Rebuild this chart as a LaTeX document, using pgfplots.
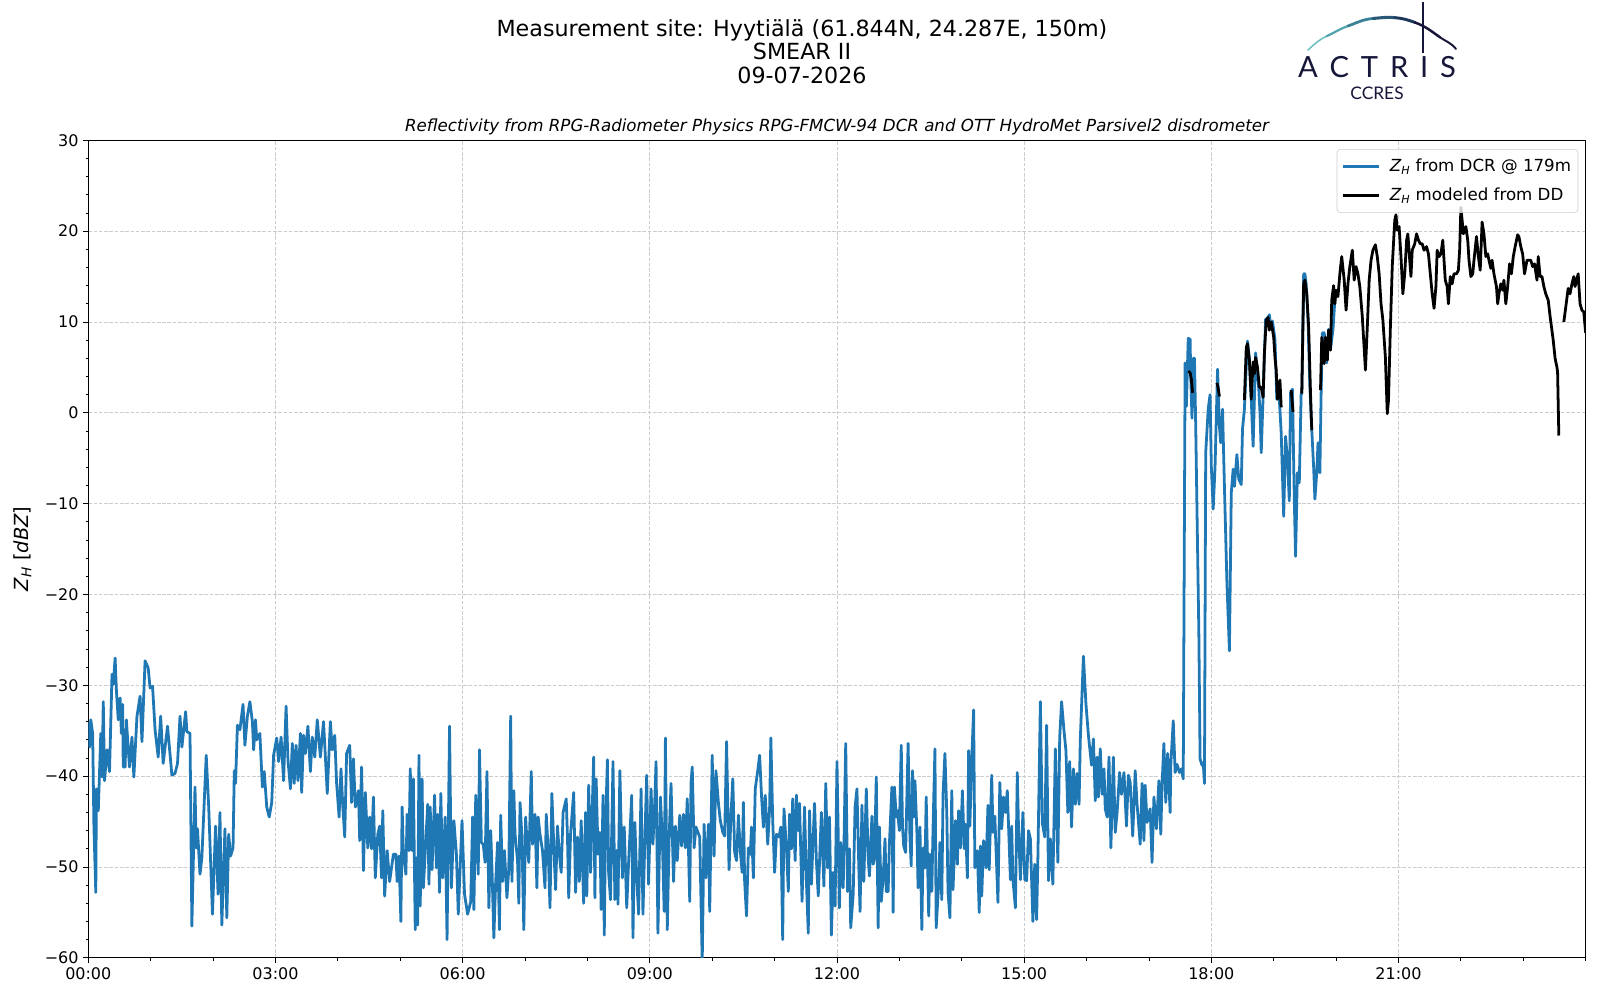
\documentclass[border=0pt]{standalone}
\usepackage{fontspec}
\setmainfont{DejaVu Sans}
\newfontfamily\logofont{Lato}
\usepackage{pgfplots}
\pgfplotsset{compat=1.18}
\usepackage{pgfplotstable}
\definecolor{mplblue}{RGB}{31,119,180}
\definecolor{navy}{RGB}{22,22,58}

\pgfplotstableread{
h z
0.00 -34.0
0.02 -36.8
0.04 -33.8
0.07 -35.3
0.09 -45.6
0.12 -52.8
0.13 -41.4
0.16 -43.8
0.20 -35.3
0.22 -40.1
0.24 -31.8
0.26 -40.5
0.30 -37.1
0.34 -39.5
0.38 -28.8
0.40 -29.9
0.43 -27.0
0.45 -30.5
0.48 -33.8
0.51 -31.4
0.53 -35.3
0.55 -32.1
0.56 -39.0
0.59 -39.0
0.61 -33.8
0.66 -39.0
0.70 -35.7
0.73 -40.1
0.78 -33.4
0.83 -31.2
0.86 -36.2
0.91 -27.3
0.96 -28.1
0.99 -30.3
1.03 -30.1
1.07 -34.9
1.12 -37.9
1.16 -33.4
1.20 -38.6
1.27 -34.5
1.34 -39.9
1.39 -39.7
1.43 -38.6
1.47 -33.4
1.50 -36.8
1.56 -32.9
1.58 -35.1
1.63 -35.3
1.66 -56.5
1.71 -41.2
1.73 -47.9
1.75 -45.8
1.79 -50.8
1.82 -49.0
1.89 -37.7
1.93 -43.4
1.99 -55.2
2.04 -45.5
2.08 -53.0
2.11 -44.0
2.14 -56.4
2.19 -45.8
2.22 -55.6
2.25 -46.4
2.28 -48.8
2.32 -47.9
2.34 -39.4
2.36 -40.8
2.39 -34.4
2.43 -34.9
2.48 -32.1
2.51 -36.6
2.55 -33.4
2.59 -31.8
2.63 -34.0
2.65 -37.1
2.68 -33.8
2.70 -36.0
2.75 -35.3
2.79 -41.2
2.82 -39.5
2.86 -43.4
2.90 -44.5
2.94 -42.9
2.97 -37.7
3.02 -35.8
3.05 -38.4
3.09 -35.7
3.13 -40.5
3.17 -32.3
3.20 -38.2
3.24 -41.4
3.27 -36.4
3.30 -40.8
3.33 -36.6
3.36 -40.5
3.40 -35.3
3.42 -41.8
3.45 -35.5
3.48 -37.5
3.52 -34.5
3.56 -39.5
3.59 -35.7
3.63 -37.9
3.67 -33.8
3.72 -37.9
3.77 -34.0
3.80 -37.9
3.83 -41.9
3.88 -34.0
3.91 -37.1
3.95 -35.5
3.98 -40.8
4.02 -44.5
4.05 -39.2
4.08 -43.4
4.11 -46.7
4.14 -37.5
4.19 -36.6
4.22 -42.9
4.25 -38.1
4.28 -43.4
4.33 -41.6
4.35 -47.1
4.38 -39.0
4.41 -50.4
4.44 -41.8
4.48 -47.9
4.51 -44.5
4.54 -48.0
4.57 -42.3
4.60 -51.2
4.64 -46.4
4.67 -45.5
4.70 -51.2
4.72 -43.8
4.75 -53.2
4.79 -48.2
4.83 -51.6
4.86 -50.1
4.89 -48.6
4.93 -48.6
4.95 -51.6
4.98 -48.8
5.01 -56.0
5.03 -43.4
5.05 -48.6
5.09 -50.8
5.11 -44.2
5.14 -48.2
5.16 -39.2
5.19 -48.2
5.21 -40.3
5.24 -56.9
5.26 -49.0
5.28 -56.4
5.30 -37.7
5.32 -54.3
5.35 -40.3
5.37 -52.3
5.41 -47.1
5.44 -43.1
5.46 -51.9
5.48 -43.4
5.51 -50.3
5.55 -42.1
5.58 -50.1
5.60 -44.2
5.63 -52.8
5.65 -41.9
5.68 -51.2
5.72 -44.5
5.75 -58.0
5.79 -34.5
5.82 -52.3
5.86 -44.9
5.90 -48.6
5.93 -55.2
5.96 -50.1
5.99 -44.9
6.03 -53.0
6.08 -55.2
6.13 -53.8
6.16 -44.5
6.18 -54.7
6.21 -42.1
6.25 -50.8
6.27 -37.1
6.30 -47.3
6.33 -47.5
6.36 -49.5
6.39 -39.5
6.42 -54.5
6.45 -46.0
6.47 -50.1
6.50 -57.8
6.53 -51.6
6.56 -47.3
6.59 -56.9
6.61 -44.3
6.64 -51.6
6.67 -48.2
6.71 -53.4
6.74 -50.1
6.77 -33.4
6.79 -51.6
6.82 -41.6
6.84 -46.4
6.88 -49.3
6.90 -54.0
6.92 -42.9
6.95 -46.6
6.98 -56.9
7.01 -44.5
7.03 -47.1
7.06 -49.5
7.10 -39.5
7.12 -47.5
7.16 -44.2
7.19 -52.3
7.21 -44.5
7.24 -46.4
7.28 -48.2
7.32 -52.3
7.34 -44.2
7.37 -48.0
7.40 -54.5
7.43 -41.9
7.47 -49.3
7.49 -52.5
7.52 -45.5
7.55 -48.6
7.58 -50.6
7.61 -44.0
7.66 -42.5
7.68 -46.6
7.70 -53.4
7.73 -46.4
7.78 -41.8
7.81 -52.8
7.84 -46.7
7.87 -51.6
7.90 -44.9
7.94 -54.0
7.97 -44.0
7.99 -53.2
8.02 -41.0
8.05 -50.6
8.10 -37.9
8.12 -53.4
8.14 -40.3
8.17 -48.6
8.20 -46.2
8.22 -54.7
8.25 -42.1
8.27 -57.5
8.29 -45.6
8.32 -38.2
8.34 -50.6
8.37 -53.6
8.41 -38.4
8.44 -53.6
8.47 -48.2
8.49 -54.1
8.52 -39.4
8.56 -51.2
8.59 -45.6
8.63 -54.5
8.66 -49.5
8.71 -42.1
8.73 -57.8
8.76 -45.1
8.79 -51.2
8.82 -55.2
8.86 -41.4
8.89 -55.2
8.92 -47.1
8.95 -39.9
8.98 -51.9
9.02 -41.4
9.05 -47.5
9.08 -42.7
9.10 -38.4
9.13 -57.3
9.17 -42.3
9.20 -46.7
9.23 -54.9
9.25 -35.8
9.28 -56.9
9.31 -46.7
9.34 -40.8
9.38 -51.6
9.41 -45.5
9.44 -49.3
9.48 -44.3
9.51 -47.7
9.54 -44.2
9.57 -47.9
9.60 -42.5
9.64 -53.8
9.66 -40.8
9.68 -39.0
9.71 -47.9
9.74 -45.6
9.80 -46.7
9.84 -60.5
9.87 -45.3
9.90 -51.2
9.94 -45.3
9.96 -54.9
10.00 -37.7
10.03 -48.8
10.06 -39.4
10.10 -43.0
10.13 -44.9
10.17 -46.2
10.20 -46.6
10.23 -36.2
10.27 -50.3
10.30 -44.5
10.33 -40.3
10.36 -48.4
10.39 -49.3
10.42 -44.3
10.45 -48.2
10.48 -50.6
10.50 -42.9
10.52 -51.6
10.55 -55.4
10.58 -47.9
10.61 -48.6
10.63 -45.6
10.66 -51.2
10.69 -41.4
10.73 -39.4
10.76 -37.7
10.79 -42.1
10.82 -45.6
10.85 -42.1
10.89 -47.5
10.92 -43.6
10.94 -35.8
10.97 -44.9
11.00 -50.6
11.03 -46.4
11.07 -46.7
11.10 -45.6
11.13 -58.0
11.15 -43.6
11.19 -47.9
11.22 -52.7
11.24 -44.2
11.27 -48.0
11.29 -42.5
11.33 -49.3
11.35 -42.1
11.38 -46.0
11.40 -43.0
11.44 -53.8
11.48 -43.4
11.51 -51.6
11.54 -57.3
11.56 -43.8
11.59 -51.9
11.64 -43.0
11.67 -49.3
11.70 -53.2
11.75 -44.0
11.79 -52.1
11.82 -40.8
11.85 -50.1
11.88 -44.5
11.91 -57.5
11.94 -50.6
11.97 -54.3
12.00 -38.4
12.04 -54.5
12.06 -47.3
12.10 -52.3
12.14 -36.4
12.17 -52.7
12.20 -48.0
12.22 -56.7
12.26 -53.0
12.29 -43.4
12.32 -41.4
12.35 -50.1
12.37 -54.9
12.40 -43.2
12.43 -51.6
12.47 -41.4
12.50 -49.0
12.52 -51.0
12.56 -44.4
12.58 -49.7
12.60 -49.0
12.63 -40.1
12.66 -56.7
12.68 -45.6
12.71 -53.8
12.74 -51.2
12.77 -46.9
12.79 -52.7
12.82 -52.7
12.84 -47.5
12.88 -41.2
12.90 -55.0
12.92 -41.2
12.95 -44.5
12.97 -43.8
13.00 -46.0
13.03 -36.6
13.05 -45.6
13.07 -47.7
13.10 -48.4
13.14 -36.4
13.17 -46.9
13.19 -49.9
13.21 -39.4
13.23 -44.5
13.25 -40.5
13.28 -46.0
13.30 -52.3
13.33 -45.6
13.36 -56.9
13.38 -47.9
13.41 -50.1
13.43 -42.3
13.47 -55.4
13.49 -48.6
13.52 -52.7
13.54 -45.6
13.57 -37.0
13.59 -56.7
13.63 -51.9
13.65 -47.3
13.68 -53.6
13.70 -42.0
13.73 -37.5
13.76 -44.0
13.78 -52.8
13.81 -55.6
13.84 -41.6
13.86 -52.5
13.90 -44.9
13.93 -49.7
13.95 -43.8
13.98 -47.9
14.01 -41.6
14.04 -48.0
14.06 -45.3
14.09 -51.2
14.11 -37.2
14.13 -45.5
14.16 -38.1
14.19 -32.7
14.21 -50.1
14.25 -48.2
14.28 -55.0
14.30 -47.7
14.32 -53.2
14.35 -47.1
14.39 -50.1
14.42 -43.2
14.44 -50.3
14.48 -39.9
14.50 -46.2
14.53 -44.4
14.58 -53.9
14.61 -40.7
14.64 -45.8
14.67 -42.3
14.70 -44.0
14.73 -41.6
14.75 -45.5
14.78 -51.4
14.80 -45.5
14.82 -51.4
14.86 -54.5
14.89 -39.6
14.91 -45.8
14.94 -51.4
14.98 -44.0
15.01 -51.4
15.04 -51.5
15.07 -46.0
15.10 -46.9
15.14 -56.0
15.17 -49.7
15.20 -55.8
15.22 -49.0
15.26 -31.8
15.29 -45.1
15.33 -46.7
15.36 -34.4
15.39 -51.5
15.42 -46.9
15.46 -51.9
15.50 -37.0
15.54 -49.5
15.57 -35.7
15.60 -31.8
15.64 -35.1
15.67 -37.2
15.70 -44.0
15.73 -38.4
15.76 -45.6
15.79 -39.2
15.82 -43.1
15.85 -39.7
15.88 -43.1
15.90 -36.0
15.95 -26.8
15.99 -32.0
16.03 -35.5
16.08 -38.8
16.11 -35.9
16.14 -42.7
16.17 -37.9
16.19 -42.3
16.22 -37.0
16.25 -42.0
16.28 -39.2
16.30 -43.6
16.33 -44.5
16.36 -37.9
16.39 -47.9
16.43 -37.9
16.46 -46.2
16.49 -44.0
16.53 -39.6
16.56 -42.0
16.60 -39.6
16.64 -45.5
16.67 -39.9
16.70 -40.7
16.74 -46.6
16.78 -39.4
16.81 -43.1
16.86 -47.5
16.89 -40.8
16.92 -47.1
16.94 -41.0
16.97 -45.1
17.02 -43.6
17.05 -49.5
17.08 -42.3
17.12 -45.8
17.16 -40.5
17.19 -46.4
17.21 -41.0
17.24 -36.4
17.27 -42.9
17.30 -37.5
17.34 -44.0
17.35 -38.8
17.39 -33.9
17.42 -39.6
17.45 -38.7
17.49 -39.6
17.52 -39.2
17.55 -40.3
17.58 5.5
17.60 0.7
17.63 8.2
17.66 8.1
17.67 4.0
17.69 -0.6
17.71 6.0
17.73 6.0
17.75 -1.5
17.80 -24.2
17.82 -38.1
17.85 -38.8
17.87 -38.5
17.89 -40.8
17.91 -4.4
17.95 0.4
17.98 2.0
18.00 -5.9
18.03 -10.6
18.06 -5.9
18.10 4.8
18.13 -1.5
18.15 -3.3
18.18 0.4
18.21 -8.1
18.25 -18.7
18.29 -26.2
18.32 -8.8
18.35 -6.2
18.37 -8.1
18.41 -4.6
18.44 -7.3
18.48 -7.9
18.50 -1.8
18.53 0.4
18.56 5.1
18.58 7.9
18.61 5.9
18.64 1.5
18.67 -3.7
18.71 6.6
18.73 5.1
18.76 2.7
18.78 0.0
18.80 -4.4
18.83 1.8
18.87 10.3
18.90 10.4
18.93 10.8
18.96 9.2
18.98 10.1
19.02 8.1
19.05 1.5
19.07 3.3
19.09 1.5
19.12 -2.2
19.16 -11.4
19.19 -2.6
19.22 -5.1
19.25 -9.7
19.27 2.2
19.30 2.6
19.33 -9.5
19.35 -15.8
19.38 -6.6
19.41 -7.7
19.44 2.2
19.45 2.1
19.48 15.3
19.50 15.3
19.52 14.2
19.55 10.2
19.58 2.8
19.60 -0.5
19.64 -6.0
19.66 -9.5
19.69 -6.6
19.71 -3.3
19.74 -6.6
19.76 2.2
19.78 8.8
19.81 8.8
19.85 5.5
19.88 9.2
19.91 7.0
19.95 9.2
19.98 12.4
}\bluedata

\pgfplotstableread{
h z
17.63 4.6
17.66 4.4
17.68 3.7
17.70 2.2
nan nan
18.09 3.3
18.11 2.7
18.13 1.8
nan nan
18.53 1.4
18.56 7.2
18.58 7.6
18.61 5.8
18.64 1.5
18.67 5.6
18.69 4.3
18.71 6.1
18.74 5.0
18.77 2.8
18.80 2.8
18.83 1.7
18.85 6.5
18.88 10.2
18.91 10.5
18.93 9.1
18.96 10.0
19.00 8.3
19.02 6.1
19.04 4.7
19.06 1.5
19.08 2.1
19.10 3.6
19.12 0.6
nan nan
19.28 2.5
19.31 0.1
nan nan
19.45 2.1
19.48 14.2
19.50 14.6
19.53 13.1
19.56 9.4
19.59 2.1
19.61 -1.9
nan nan
19.75 2.5
19.77 8.3
19.81 5.4
19.83 8.3
19.86 5.8
19.88 9.1
19.91 6.9
19.93 12.4
19.96 14.0
19.98 12.0
20.00 13.5
20.03 12.8
20.06 15.3
20.09 17.2
20.13 14.6
20.16 11.3
20.19 14.2
20.22 16.1
20.26 17.9
20.29 14.6
20.32 16.1
20.35 15.3
20.38 13.9
20.42 10.6
20.47 4.7
20.50 9.4
20.53 14.6
20.56 16.8
20.59 17.9
20.63 18.5
20.66 17.2
20.69 15.3
20.72 12.0
20.75 10.2
20.79 6.1
20.82 -0.1
20.84 1.4
20.87 9.4
20.90 16.1
20.94 21.2
20.96 21.8
20.98 20.1
21.01 20.5
21.04 17.2
21.07 13.1
21.10 15.3
21.13 19.0
21.15 19.7
21.18 16.8
21.20 15.0
21.22 17.9
21.26 18.6
21.29 19.7
21.32 19.0
21.35 18.6
21.38 18.6
21.41 17.9
21.45 18.3
21.48 17.5
21.51 15.3
21.54 13.1
21.57 11.5
21.60 13.9
21.62 17.9
21.65 17.2
21.68 17.5
21.71 19.0
21.75 14.6
21.78 13.9
21.80 12.0
21.83 15.0
21.86 14.2
21.89 15.3
21.93 15.3
21.96 15.7
21.98 17.9
22.00 22.6
22.02 21.2
22.04 19.7
22.08 20.5
22.11 19.0
22.13 16.8
22.16 15.0
22.19 15.3
22.21 16.8
22.25 19.4
22.28 17.2
22.31 15.7
22.34 21.0
22.37 19.7
22.40 17.2
22.43 17.5
22.45 16.8
22.48 15.9
22.50 16.8
22.53 15.3
22.57 13.9
22.59 12.0
22.61 13.1
22.64 14.2
22.67 13.5
22.69 14.6
22.72 12.0
22.75 13.9
22.78 16.4
22.81 15.3
22.84 17.2
22.87 18.3
22.91 19.6
22.93 19.4
22.96 18.3
22.99 17.5
23.02 15.3
23.06 16.8
23.09 16.8
23.12 16.8
23.15 16.1
23.18 16.4
23.22 14.6
23.24 17.2
23.27 15.0
23.30 15.0
23.33 13.9
23.36 13.1
23.40 12.4
23.43 10.6
23.48 8.0
23.51 6.0
23.54 5.0
23.55 4.5
23.57 -2.5
nan nan
23.65 10.0
23.72 13.7
23.75 13.1
23.78 14.2
23.81 15.0
23.83 13.9
23.88 15.3
23.91 12.0
23.94 11.3
23.97 11.1
24.00 8.8
}\blackdata

\begin{document}
\begin{tikzpicture}
\path[use as bounding box] (0pt,0pt) rectangle (1152pt,720pt);
\begin{axis}[
  at={(63.58pt,30.38pt)}, anchor=south west,
  scale only axis, width=1078.1pt, height=588.6pt,
  xmin=0, xmax=24, ymin=-60, ymax=30,
  xtick={0,3,...,21},
  xticklabels={00:00,03:00,06:00,09:00,12:00,15:00,18:00,21:00},
  ytick={-60,-50,...,30},
  yticklabels={−60,−50,−40,−30,−20,−10,0,10,20,30},
  minor xtick={0,1,...,24},
  minor ytick={-60,-58,...,30},
  tick pos=left, tick align=outside,
  major tick length=3.5pt, minor tick length=2pt,
  every tick/.style={black, line width=0.6pt},
  axis line style={line width=0.7pt},
  grid=major,
  major grid style={dash pattern=on 2.6pt off 1.2pt, color=black!20, line width=0.55pt},
  tick label style={font=\fontsize{11.5}{13}\selectfont},
  unbounded coords=jump,
  legend cell align=left,
  legend image code/.code={\draw[#1, line width=2.1pt] (0pt,0pt) -- (26pt,0pt); \path (31pt,0pt);},
  legend style={at={(1,1)}, anchor=north east, xshift=-5.3pt, yshift=-6.3pt,
    draw=black!20, rounded corners=2.5pt, fill=white, fill opacity=0.8, text opacity=1, draw opacity=1,
    font=\fontsize{12}{14}\selectfont, inner xsep=3pt, inner ysep=5pt, row sep=6.4pt},
]
\addplot[mplblue, line width=2pt, line join=round] table[x=h,y=z]{\bluedata};
\addlegendentry{{\itshape Z\textsubscript{H}} from DCR @ 179m}
\addplot[black, line width=2pt, line join=round] table[x=h,y=z]{\blackdata};
\addlegendentry{{\itshape Z\textsubscript{H}} modeled from DD}
\end{axis}
\begin{scope}[x=0.72pt,y=0.72pt]
\node[anchor=base, font=\fontsize{16}{18}\selectfont] at (802,963.5) {Measurement site: Hyytiälä (61.844N, 24.287E, 150m)};
\node[anchor=base, font=\fontsize{16}{18}\selectfont] at (802,940.2) {SMEAR II};
\node[anchor=base, font=\fontsize{16}{18}\selectfont] at (802,916.9) {09-07-2026};
\node[anchor=base, font=\itshape\fontsize{12}{14}\selectfont] at (837,868) {Reflectivity from RPG-Radiometer Physics RPG-FMCW-94 DCR and OTT HydroMet Parsivel2 disdrometer};
\node[rotate=90, font=\fontsize{14}{16}\selectfont] at (22.5,451) {{\itshape Z\textsubscript{H}} [{\itshape dBZ}]};
% logo
\draw[line cap=round, line width=1.1pt, color={rgb,255:red,110;green,190;blue,190}] (1308,950) to[out=42,in=205] (1326.7,963.8);
\draw[line cap=round, line width=1.6pt, color={rgb,255:red,85;green,165;blue,175}] (1326.7,963.8) to[out=25,in=200] (1348,974);
\draw[line cap=round, line width=2.0pt, color={rgb,255:red,60;green,130;blue,150}] (1348,974) to[out=20,in=185] (1373,981.5);
\draw[line cap=round, line width=2.2pt, color={rgb,255:red,40;green,90;blue,120}] (1373,981.5) to[out=5,in=175] (1395,982.3);
\draw[line cap=round, line width=2.1pt, color={rgb,255:red,28;green,55;blue,90}] (1395,982.3) to[out=-5,in=160] (1415,977.5);
\draw[line cap=round, line width=1.8pt, navy] (1415,977.5) to[out=-20,in=145] (1440,962.7);
\draw[line cap=round, line width=1.4pt, navy] (1440,962.7) to[out=-35,in=128] (1456,951);
\draw[navy, line width=1.3pt] (1423,998.3) -- (1423,947);
\node[anchor=base, text=navy, font=\logofont\fontsize{21}{24}\selectfont] at (1377,922) {A\hspace{8.5pt}C\hspace{8.5pt}T\hspace{8.5pt}R\hspace{8.5pt}I\hspace{8.5pt}S};
\node[anchor=base, text=navy, font=\logofont\fontsize{12.5}{14}\selectfont] at (1377,900.7) {CCRES};
\end{scope}
\end{tikzpicture}
\end{document}
